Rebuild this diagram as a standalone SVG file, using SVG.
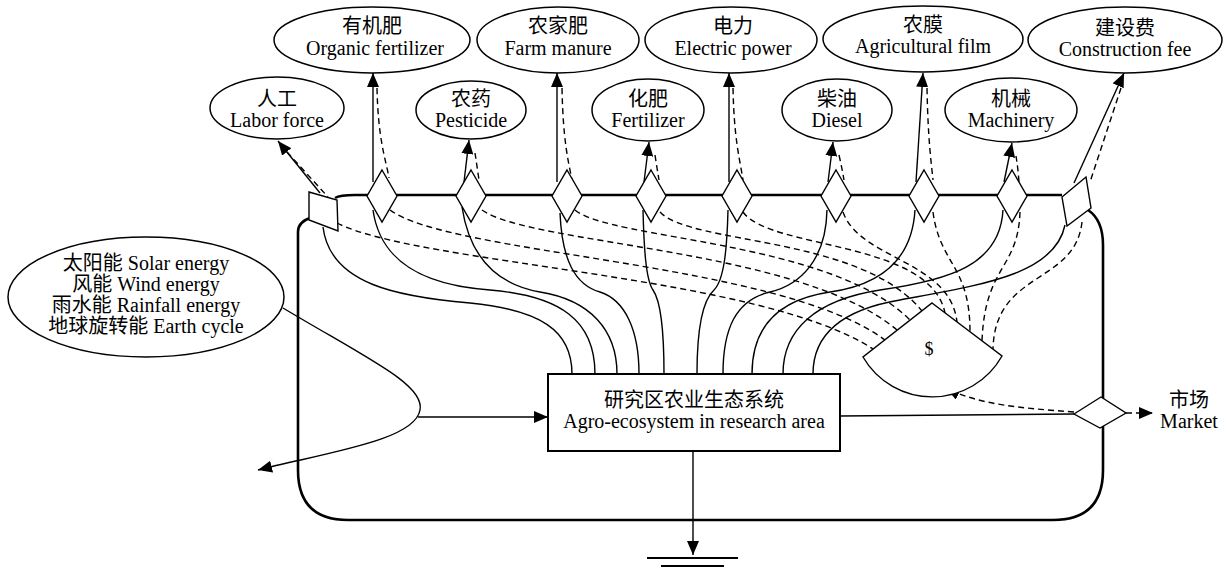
<svg xmlns="http://www.w3.org/2000/svg" width="1226" height="568" viewBox="0 0 1226 568">
<defs>
<marker id="ah" markerWidth="14" markerHeight="12" refX="14" refY="6" orient="auto" markerUnits="userSpaceOnUse"><path d="M0,0 L14,6 L0,12 z" fill="#000"/></marker>
<style>
.t{font-family:"Liberation Serif","Noto Sans CJK SC",serif;font-size:20px;fill:#000;text-anchor:middle}
.el{fill:#fff;stroke:#000;stroke-width:1.5}
.dm{fill:#fff;stroke:#000;stroke-width:1.4}
.s{fill:none;stroke:#000;stroke-width:1.4}
.d{fill:none;stroke:#000;stroke-width:1.4;stroke-dasharray:6 4}
.b{fill:none;stroke:#000;stroke-width:2.6}
</style>
</defs>
<rect width="1226" height="568" fill="#fff"/>

<g id="boundary">
<path class="b" d="M335,198 Q340,195 355,195 L1062,195 M1088,210 Q1103,220 1103,245 L1103,470 Q1103,520 1053,520 L348,520 Q298,520 298,470 L298,232 Q298,222 310,218"/>
</g>

<g id="connectors">
<!-- source arrows -->
<path class="s" d="M320,193 L278,141" marker-end="url(#ah)"/>
<path class="d" d="M287,152 L328,197"/>
<path class="s" d="M373,182 L373,73" marker-end="url(#ah)"/>
<path class="d" d="M377,88 C378,140 386,160 389,178"/>
<path class="s" d="M464,182 L469,140" marker-end="url(#ah)"/>
<path class="d" d="M475,153 Q477,166 479,180"/>
<path class="s" d="M557,182 L557,73" marker-end="url(#ah)"/>
<path class="d" d="M562,88 C563,140 568,160 572,180"/>
<path class="s" d="M644,182 L649,142" marker-end="url(#ah)"/>
<path class="d" d="M655,155 Q657,168 659,180"/>
<path class="s" d="M729,182 L729,73" marker-end="url(#ah)"/>
<path class="d" d="M733,88 C734,140 740,160 743,180"/>
<path class="s" d="M828,182 L833,142" marker-end="url(#ah)"/>
<path class="d" d="M839,155 Q842,168 844,180"/>
<path class="s" d="M916,182 L923,73" marker-end="url(#ah)"/>
<path class="d" d="M927,88 C928,140 931,160 933,180"/>
<path class="s" d="M1004,182 L1012,143" marker-end="url(#ah)"/>
<path class="d" d="M1016,156 Q1018,168 1019,182"/>
<path class="s" d="M1074,183 L1124,73" marker-end="url(#ah)"/>
<path class="d" d="M1121,88 L1090,182"/>

<!-- solid flows into system -->
<path class="s" d="M323,227 C330,285 400,297 470,303 C540,310 572,330 572,374"/>
<path class="s" d="M373,210 C380,260 420,285 490,290 C560,296 595,320 595,374"/>
<path class="s" d="M462,207 C470,260 500,285 540,292 C590,300 617,330 617,374"/>
<path class="s" d="M560,213 C562,260 575,285 600,292 C625,300 639,330 639,374"/>
<path class="s" d="M643,210 C644,250 646,280 653,290 C660,300 664,330 664,374"/>
<path class="s" d="M728,210 C727,250 724,280 714,290 C703,300 697,330 697,374"/>
<path class="s" d="M827,210 C826,260 800,285 770,292 C735,300 723,330 723,374"/>
<path class="s" d="M915,210 C912,260 880,285 830,292 C775,300 752,330 752,374"/>
<path class="s" d="M1003,210 C1000,265 950,280 880,290 C815,300 783,330 783,374"/>
<path class="s" d="M1065,225 C1055,275 980,285 900,300 C840,310 813,335 813,374"/>

<!-- dashed money flows to $ -->
<path class="d" d="M337,223 C420,265 760,275 873,349"/>
<path class="d" d="M390,210 C450,255 780,262 885,340"/>
<path class="d" d="M482,210 C530,245 800,248 897,330"/>
<path class="d" d="M575,210 C610,240 830,240 910,320"/>
<path class="d" d="M660,212 C690,245 860,235 922,311"/>
<path class="d" d="M743,212 C770,250 930,240 945,313"/>
<path class="d" d="M843,212 C860,260 950,260 957,322"/>
<path class="d" d="M933,212 C940,265 970,265 970,332"/>
<path class="d" d="M1020,212 C1018,270 985,265 982,341"/>
<path class="d" d="M1082,222 C1075,285 995,270 993,349"/>

<!-- natural sources -->
<path class="s" d="M283,308 C370,360 425,385 420,410 C415,440 330,452 258,470" marker-end="url(#ah)"/>
<path class="s" d="M418,417 L548,417" marker-end="url(#ah)"/>

<!-- outputs -->
<path class="s" d="M840,416 L1074,414"/>
<path class="d" d="M1126,413 L1153,413" marker-end="url(#ah)"/>
<path class="d" d="M1074,412 C1020,408 980,405 946,388" marker-end="url(#ah)"/>
<path class="s" d="M693,451 L693,555" marker-end="url(#ah)"/>
</g>

<g id="ground">
<line x1="647" y1="558" x2="738" y2="558" stroke="#000" stroke-width="1.8"/>
<line x1="661" y1="566" x2="724" y2="566" stroke="#000" stroke-width="1.8"/>
</g>

<g id="interfaces">
<polygon class="dm" points="309,192 337,200 338,231 309,220"/>
<polygon class="dm" points="1062,197 1086,177 1091,208 1067,226"/>
<polygon class="dm" points="382,170 397,196 382,222 367,196"/>
<polygon class="dm" points="471,170 486,196 471,222 456,196"/>
<polygon class="dm" points="567,170 582,196 567,222 552,196"/>
<polygon class="dm" points="651,170 666,196 651,222 636,196"/>
<polygon class="dm" points="737,170 752,196 737,222 722,196"/>
<polygon class="dm" points="836,170 851,196 836,222 821,196"/>
<polygon class="dm" points="924,170 939,196 924,222 909,196"/>
<polygon class="dm" points="1012,170 1027,196 1012,222 997,196"/>
<polygon class="dm" points="1074,414 1101,397 1126,413 1100,428"/>
</g>

<g id="n-labor"><ellipse class="el" cx="277" cy="108" rx="67" ry="31"/><text class="t" x="277" y="106">人工</text><text class="t" x="277" y="127">Labor force</text></g>
<g id="n-organic"><ellipse class="el" cx="372" cy="40" rx="98" ry="33"/><text class="t" x="372" y="33">有机肥</text><text class="t" x="375" y="55">Organic fertilizer</text></g>
<g id="n-pesticide"><ellipse class="el" cx="471" cy="110" rx="55" ry="29"/><text class="t" x="471" y="106">农药</text><text class="t" x="471" y="127">Pesticide</text></g>
<g id="n-manure"><ellipse class="el" cx="558" cy="40" rx="81" ry="33"/><text class="t" x="558" y="33">农家肥</text><text class="t" x="558" y="55">Farm manure</text></g>
<g id="n-fertilizer"><ellipse class="el" cx="648" cy="110" rx="56" ry="31"/><text class="t" x="648" y="106">化肥</text><text class="t" x="648" y="127">Fertilizer</text></g>
<g id="n-electric"><ellipse class="el" cx="731" cy="40" rx="86" ry="33"/><text class="t" x="733" y="33">电力</text><text class="t" x="733" y="55">Electric power</text></g>
<g id="n-diesel"><ellipse class="el" cx="837" cy="110" rx="55" ry="31"/><text class="t" x="837" y="106">柴油</text><text class="t" x="837" y="127">Diesel</text></g>
<g id="n-film"><ellipse class="el" cx="923" cy="39" rx="100" ry="33"/><text class="t" x="923" y="32">农膜</text><text class="t" x="923" y="53">Agricultural film</text></g>
<g id="n-machinery"><ellipse class="el" cx="1011" cy="110" rx="66" ry="32"/><text class="t" x="1011" y="106">机械</text><text class="t" x="1011" y="127">Machinery</text></g>
<g id="n-construction"><ellipse class="el" cx="1125" cy="40" rx="97" ry="33"/><text class="t" x="1125" y="35">建设费</text><text class="t" x="1125" y="56">Construction fee</text></g>

<g id="n-natural"><ellipse class="el" cx="146" cy="297" rx="138" ry="60"/>
<text class="t" x="146" y="270">太阳能 Solar energy</text>
<text class="t" x="146" y="291">风能 Wind energy</text>
<text class="t" x="146" y="312">雨水能 Rainfall energy</text>
<text class="t" x="146" y="333">地球旋转能 Earth cycle</text></g>

<g id="n-system"><rect x="548" y="374" width="292" height="77" fill="#fff" stroke="#000" stroke-width="2"/>
<text class="t" x="694" y="407">研究区农业生态系统</text>
<text class="t" x="694" y="428">Agro-ecosystem in research area</text></g>

<g id="n-money"><path d="M932,303 L1002,356 A80,80 0 0 1 863,357 Z" fill="#fff" stroke="#000" stroke-width="1.4"/>
<text class="t" x="929" y="355" style="font-size:18px">$</text></g>

<g id="n-market"><text class="t" x="1189" y="407">市场</text><text class="t" x="1189" y="428">Market</text></g>
</svg>
